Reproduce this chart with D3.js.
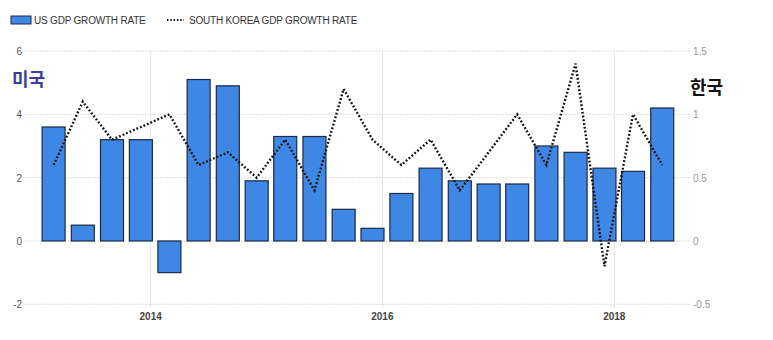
<!DOCTYPE html>
<html>
<head>
<meta charset="utf-8">
<script src="https://cdn.jsdelivr.net/npm/d3@7"></script>
<style>
body { margin: 0; background: #fff; }
svg { display: block; font-family: "Liberation Sans", Arial, sans-serif; }
</style>
</head>
<body>
<div id="chart"></div>
<script>
// quarters 2013 Q1 .. 2018 Q2
var quarters = ["2013Q1","2013Q2","2013Q3","2013Q4","2014Q1","2014Q2","2014Q3","2014Q4",
	"2015Q1","2015Q2","2015Q3","2015Q4","2016Q1","2016Q2","2016Q3","2016Q4",
	"2017Q1","2017Q2","2017Q3","2017Q4","2018Q1","2018Q2"];
var usGrowth = [3.6, 0.5, 3.2, 3.2, -1.0, 5.1, 4.9, 1.9, 3.3, 3.3, 1.0, 0.4,
	1.5, 2.3, 1.9, 1.8, 1.8, 3.0, 2.8, 2.3, 2.2, 4.2];
var krGrowth = [0.6, 1.1, 0.8, 0.9, 1.0, 0.6, 0.7, 0.5, 0.8, 0.4, 1.2, 0.8,
	0.6, 0.8, 0.4, 0.7, 1.0, 0.6, 1.4, -0.2, 1.0, 0.6];
var leftTicks = [-2, 0, 2, 4, 6];
var rightTicks = [-0.5, 0, 0.5, 1, 1.5];
var yearTicks = [2014, 2016, 2018];

var width = 773, height = 340;
var plotLeft = 25, plotRight = 690;

function qDate(q) {
	var y = +q.slice(0, 4), n = +q.slice(5);
	return new Date(y, n * 3 - 1, 1);
}

var svg = d3.select("#chart").append("svg")
	.attr("width", width)
	.attr("height", height);

// scales
var x = d3.scaleTime()
	.domain([new Date(2014, 0, 1), new Date(2018, 0, 1)])
	.range([150.7, 614.3]);
var yL = d3.scaleLinear().domain([-2, 6]).range([304.3, 51]);
var yR = d3.scaleLinear().domain([-0.5, 1.5]).range([304.3, 51]);

// horizontal dotted grid
svg.append("g").selectAll("line")
	.data(leftTicks)
	.enter().append("line")
	.attr("x1", plotLeft).attr("x2", plotRight)
	.attr("y1", function (d) { return yL(d); })
	.attr("y2", function (d) { return yL(d); })
	.attr("stroke", "#dcdcdc")
	.attr("stroke-width", 1)
	.attr("stroke-dasharray", "2,1");

// vertical year grid
svg.append("g").selectAll("line")
	.data(yearTicks)
	.enter().append("line")
	.attr("x1", function (d) { return x(new Date(d, 0, 1)); })
	.attr("x2", function (d) { return x(new Date(d, 0, 1)); })
	.attr("y1", 51).attr("y2", 307)
	.attr("stroke", "#e4e4e4")
	.attr("stroke-width", 1);

// left axis labels
svg.append("g").selectAll("text")
	.data(leftTicks)
	.enter().append("text")
	.attr("x", 22)
	.attr("y", function (d) { return yL(d) + 4; })
	.attr("text-anchor", "end")
	.style("font-size", "10px")
	.style("fill", "#555")
	.text(function (d) { return d; });

// right axis labels
svg.append("g").selectAll("text")
	.data(rightTicks)
	.enter().append("text")
	.attr("x", 693)
	.attr("y", function (d) { return yR(d) + 4; })
	.style("font-size", "10px")
	.style("fill", "#9a9a9a")
	.text(function (d) { return d; });

// bottom year labels
svg.append("g").selectAll("text")
	.data(yearTicks)
	.enter().append("text")
	.attr("x", function (d) { return x(new Date(d, 0, 1)); })
	.attr("y", 320)
	.attr("text-anchor", "middle")
	.style("font-size", "10px")
	.style("font-weight", "bold")
	.style("fill", "#444")
	.text(function (d) { return d; });

// US bars
var barW = 23;
svg.append("g").selectAll("rect")
	.data(quarters)
	.enter().append("rect")
	.attr("x", function (d) { return x(qDate(d)) - barW / 2; })
	.attr("width", barW)
	.attr("y", function (d, i) { return yL(Math.max(0, usGrowth[i])); })
	.attr("height", function (d, i) { return Math.abs(yL(usGrowth[i]) - yL(0)); })
	.attr("fill", "#3f87e5")
	.attr("stroke", "#1b2a44")
	.attr("stroke-width", 1.2);

// Korea line
var line = d3.line()
	.x(function (d) { return x(qDate(d)); })
	.y(function (d, i) { return yR(krGrowth[i]); });
svg.append("path")
	.datum(quarters)
	.attr("d", line)
	.attr("fill", "none")
	.attr("stroke", "#111")
	.attr("stroke-width", 2.4)
	.attr("stroke-dasharray", "1.8,2");

// legend
svg.append("rect")
	.attr("x", 11).attr("y", 16).attr("width", 20).attr("height", 8)
	.attr("fill", "#3f87e5").attr("stroke", "#1b2a44").attr("stroke-width", 1);
svg.append("text")
	.attr("x", 34).attr("y", 24)
	.style("font-size", "10px")
	.style("letter-spacing", "-0.2px")
	.style("fill", "#333")
	.text("US GDP GROWTH RATE");
svg.append("line")
	.attr("x1", 167).attr("x2", 184).attr("y1", 20).attr("y2", 20)
	.attr("stroke", "#111").attr("stroke-width", 2).attr("stroke-dasharray", "1.5,1.8");
svg.append("text")
	.attr("x", 189).attr("y", 24)
	.style("font-size", "10px")
	.style("letter-spacing", "-0.2px")
	.style("fill", "#333")
	.text("SOUTH KOREA GDP GROWTH RATE");

// Korean labels
svg.append("text")
	.attr("x", 12).attr("y", 86)
	.style("font-family", "'Noto Sans CJK KR', sans-serif")
	.style("font-size", "18px")
	.style("font-weight", "bold")
	.style("fill", "#3c3c9c")
	.text("미국");
svg.append("text")
	.attr("x", 690).attr("y", 94)
	.style("font-family", "'Noto Sans CJK KR', sans-serif")
	.style("font-size", "18px")
	.style("font-weight", "bold")
	.style("fill", "#111")
	.text("한국");
</script>
</body>
</html>
